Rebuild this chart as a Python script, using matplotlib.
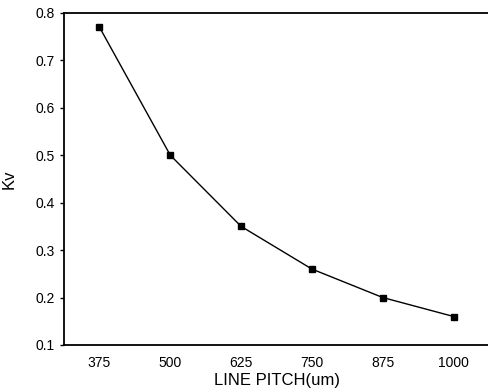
import matplotlib
matplotlib.use('Agg')
import matplotlib.pyplot as plt

# data
pitch = [375, 500, 625, 750, 875, 1000]
kv = [0.77, 0.50, 0.35, 0.26, 0.20, 0.16]
yticks = [0.1, 0.2, 0.3, 0.4, 0.5, 0.6, 0.7, 0.8]

plt.rcParams['font.family'] = ['Liberation Sans', 'DejaVu Sans']

fig = plt.figure(figsize=(4.89, 3.92), dpi=100)
ax = fig.add_axes([0.131, 0.12, 0.869, 0.847])

ax.plot(pitch, kv, color='black', linewidth=1.0, marker='s', markersize=5,
        markerfacecolor='black', markeredgecolor='black')

ax.set_xlim(312.5, 1062.5)
ax.set_ylim(0.1, 0.8)
ax.set_xticks(pitch)
ax.set_xticklabels([str(p) for p in pitch])
ax.set_yticks(yticks)
ax.set_yticklabels([f'{t:.1f}' for t in yticks])

ax.spines['right'].set_visible(False)
for s in ['left', 'top', 'bottom']:
    ax.spines[s].set_linewidth(1.3)

ax.tick_params(axis='x', length=0, labelsize=10, pad=8)
ax.tick_params(axis='y', length=3, width=1, labelsize=10, direction='out')

ax.set_xlabel('LINE PITCH(um)', fontsize=12, labelpad=2)
ax.set_ylabel('Kv', fontsize=12, labelpad=14)

fig.savefig('out.png', dpi=100)
